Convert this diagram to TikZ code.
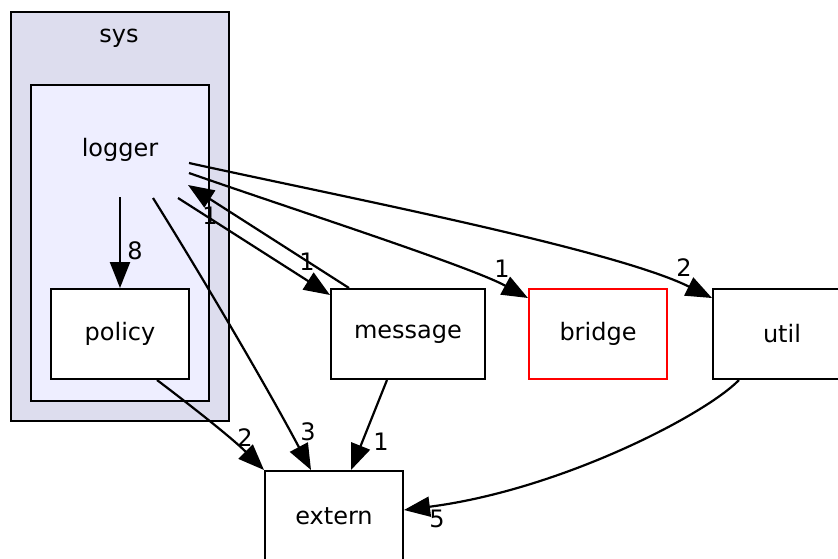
\documentclass[tikz,border=0pt]{standalone}
\usepackage{fontspec}
\setmainfont{DejaVu Sans}
\usetikzlibrary{arrows.meta}
\definecolor{sysfill}{RGB}{221,221,238}
\definecolor{logfill}{RGB}{238,238,255}
\begin{document}
\begin{tikzpicture}[x=1pt,y=-1pt,
  txt/.style={font=\fontsize{24}{28}\selectfont},
  box/.style={txt,draw=black,line width=2pt,fill=white,minimum width=138pt,minimum height=90pt,inner sep=0pt},
  cluster/.style={draw=black,line width=2pt,inner sep=0pt},
  lbl/.style={txt,inner sep=0pt},
  edge/.style={draw=black,line width=2.2pt,-{Triangle[length=26pt,width=20pt]}},
  ]
\useasboundingbox (0,0) rectangle (838,558);
\clip (0,0) rectangle (838,558);

\node[cluster,fill=sysfill,minimum width=218pt,minimum height=409pt] (sys) at (120,216.5) {};
\node[lbl] (syslbl) at (119,38) {sys};
\node[cluster,fill=logfill,minimum width=178pt,minimum height=316pt] (logger) at (120,243) {};
\node[lbl] (loglbl) at (120,150) {logger};

\node[box] (policy) at (120,334) {policy};
\node[box,minimum width=154pt] (message) at (408,334) {message};
\node[box,draw=red] (bridge) at (598,334) {bridge};
\node[box] (util) at (782,334) {util};
\node[box] (extern) at (334,516) {extern};

\coordinate (lg1) at (120,197);
\coordinate (lg2) at (153,198);
\coordinate (lg3) at (178,198);
\coordinate (lg4) at (188,185);
\coordinate (lg5) at (189,173);
\coordinate (lg6) at (189,163);

\node[lbl] (e8) at (135,251) {8};
\node[lbl] (e3) at (308,432) {3};
\node[lbl] (e1a) at (307,262) {1};
\node[lbl] (e1b) at (210,216) {1};
\node[lbl] (e1c) at (502,269) {1};
\node[lbl] (e2a) at (684,268) {2};
\node[lbl] (e2b) at (245,438) {2};
\node[lbl] (e1d) at (381,442) {1};
\node[lbl] (e5) at (437,519) {5};

\draw[edge] (lg1) -- (policy.north);
\draw[edge] (lg2) .. controls (203,278) and (267,387) .. ([xshift=47pt]extern.north west);
\draw[edge] (lg3) -- ([yshift=-7pt]message.north west);
\draw[edge] ([xshift=19pt]message.north west) -- (lg4);
\draw[edge] (lg5) .. controls (289,208) and (469,266) .. ([yshift=-10pt]bridge.north west);
\draw[edge] (lg6) .. controls (339,196) and (613,249) .. ([yshift=-10pt]util.north west);
\draw[edge] ([xshift=107pt]policy.south west) .. controls (190,405) and (232,438) .. (extern.north west);
\draw[edge] ([xshift=57pt]message.south west) -- ([xshift=87pt]extern.north west);
\draw[edge] ([xshift=27pt]util.south west) .. controls (705,415) and (560,490) .. ([yshift=6pt]extern.east);
\end{tikzpicture}
\end{document}
